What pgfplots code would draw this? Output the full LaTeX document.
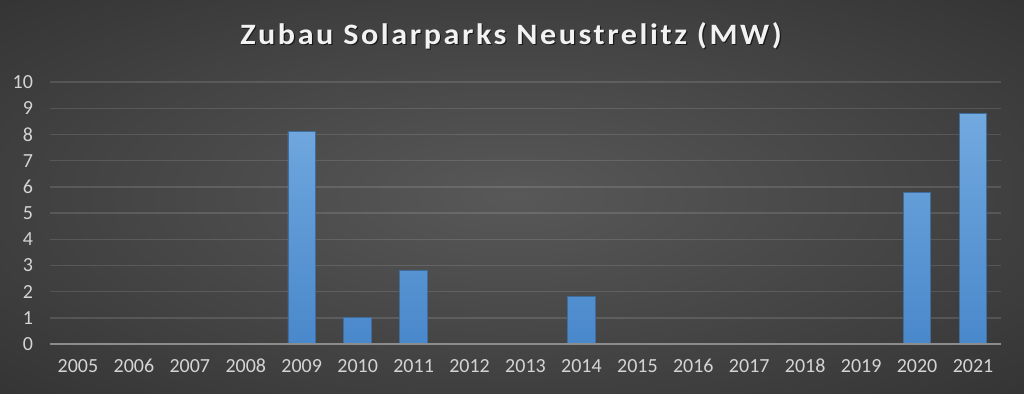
\documentclass[border=0pt]{standalone}
\usepackage{fontspec}
\usepackage{graphicx}
\setmainfont{Carlito}
\newfontfamily\titlefont[LetterSpace=8]{Carlito}
\usepackage{pgfplots}
\pgfplotsset{compat=1.18}
\definecolor{bgin}{HTML}{585858}
\definecolor{bgout}{HTML}{262626}
\definecolor{bartop}{HTML}{72A9DF}
\definecolor{barbot}{HTML}{4988CB}
\definecolor{barborder}{HTML}{3F6E9E}
\definecolor{tickc}{HTML}{D4D4D4}
\definecolor{titlec}{HTML}{F2F2F2}
\definecolor{zeroc}{HTML}{8C8C8C}
\pgfdeclareradialshading{bgshade}{\pgfpoint{0bp}{0bp}}{color(0bp)=(bgin); color(50bp)=(bgout); color(70bp)=(bgout)}
\newcommand{\ttl}{\scalebox{1.085}[1]{Zubau Solarparks Neustrelitz (MW)}}
\begin{document}
\begin{tikzpicture}
\shade[shading=bgshade] (0,0) rectangle (512pt,196.5pt);
\node[anchor=base, black, opacity=0.6, font=\titlefont\bfseries\fontsize{14.8}{16}\selectfont] at (256.1pt,173.8pt) {\ttl};
\node[anchor=base, titlec, font=\titlefont\bfseries\fontsize{14.8}{16}\selectfont] at (255.5pt,174.5pt) {\ttl};
\begin{axis}[
  at={(25pt,24.5pt)}, anchor=south west,
  scale only axis, width=475.5pt, height=131pt,
  xmin=2004.5, xmax=2021.5, ymin=0, ymax=10,
  xtick={2005,2006,2007,2008,2009,2010,2011,2012,2013,2014,2015,2016,2017,2018,2019,2020,2021},
  xticklabels={2005,2006,2007,2008,2009,2010,2011,2012,2013,2014,2015,2016,2017,2018,2019,2020,2021},
  ytick={0,1,...,10},
  /pgf/number format/assume math mode=true,
  major tick length=0pt,
  axis line style={draw=none},
  ymajorgrids,
  grid style={draw=white, opacity=0.12, line width=0.7pt},
  tick label style={font=\fontsize{10}{12}\selectfont, text=tickc},
  yticklabel style={xshift=-5pt},
  xticklabel style={yshift=-4pt},
  clip=false,
]
\addplot[ybar, bar width=13.8pt, draw=barborder, line width=0.4pt, top color=bartop, bottom color=barbot]
  coordinates {(2009,8.1) (2010,1.0) (2011,2.8) (2014,1.8) (2020,5.8) (2021,8.8)};
\draw[zeroc, line width=1pt] (axis cs:2004.5,0) -- (axis cs:2021.5,0);
\end{axis}
\end{tikzpicture}
\end{document}
